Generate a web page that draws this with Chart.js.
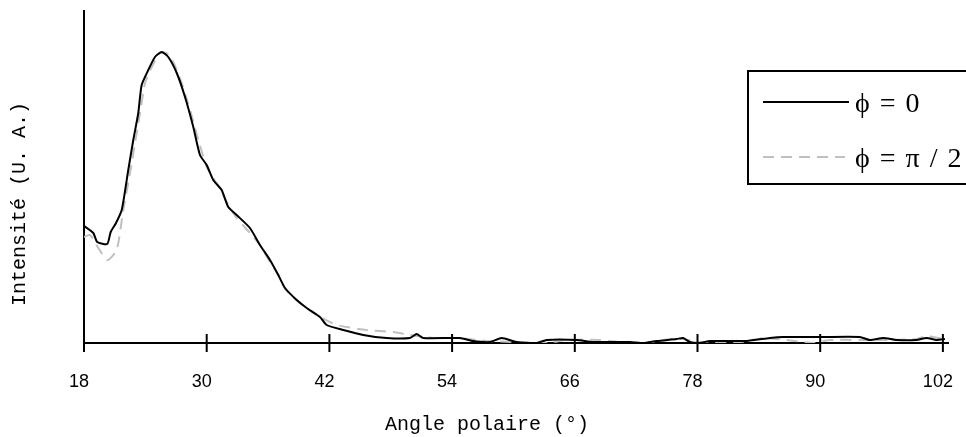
<!DOCTYPE html>
<html>
<head>
<meta charset="utf-8">
<script src="https://cdn.jsdelivr.net/npm/chart.js@4"></script>
<style>
  html, body { margin: 0; padding: 0; background: #fff; }
  #wrap { width: 966px; height: 437px; }
</style>
</head>
<body>
<div id="wrap"><canvas id="chart" width="966" height="437"></canvas></div>
<script>
// angle (deg) / intensity (a.u.)
const angle0 = [18.00, 18.91, 19.29, 20.27, 20.61, 21.13, 21.69, 22.33, 22.82, 23.31, 23.64, 24.29, 24.94, 25.60,
  26.24, 27.07, 27.88, 28.69, 29.34, 30.00, 30.64, 31.46, 32.11, 32.93, 34.23, 35.21, 36.19, 37.00, 37.66, 38.80,
  39.78, 41.08, 41.73, 43.36, 45.31, 47.60, 49.88, 50.53, 51.18, 54.77, 56.07, 57.70, 58.85, 60.31, 62.27, 63.25,
  66.17, 67.80, 71.39, 72.69, 74.00, 75.95, 76.60, 77.26, 78.24, 79.22, 82.80, 85.08, 86.38, 90.13, 93.88, 94.86,
  96.16, 97.47, 99.42, 100.40, 101.38, 102.20];
const intens0 = [117, 110, 101, 99, 111, 120, 133, 173, 203, 230, 258, 273, 286, 291,
  286, 270, 246, 216, 188, 178, 163, 153, 136, 128, 115, 98, 83, 68, 55, 43,
  35, 26, 18, 13, 8, 5, 5, 9, 5, 5, 2, 1, 5, 1, 0, 3,
  3, 1, 1, 0, 2, 4, 5, 1, 0, 2, 2, 5, 6, 6, 6, 3,
  5, 3, 3, 5, 3, 4];

const anglePi2 = [18.00, 18.59, 19.40, 20.27, 21.20, 21.84, 22.50, 22.99, 23.48, 23.97, 24.63, 25.43, 26.08, 26.73,
  27.55, 28.37, 29.18, 30.00, 30.64, 31.46, 32.11, 32.93, 34.23, 35.21, 36.19, 37.00, 37.66, 38.80, 39.78, 41.08,
  42.71, 45.64, 48.25, 49.88, 52.16, 54.77, 57.37, 59.98, 62.27, 63.86, 65.20, 68.46, 71.39, 73.02, 74.65, 76.60,
  77.91, 79.22, 82.15, 84.43, 85.73, 88.34, 89.31, 90.95, 94.20, 96.16, 99.42, 100.40, 101.05, 102.03];
const intensPi2 = [106, 108, 95, 83, 93, 133, 170, 200, 230, 260, 276, 290, 290, 281,
  260, 233, 203, 176, 165, 151, 138, 125, 110, 98, 81, 68, 54, 43, 35, 26,
  18, 13, 11, 8, 5, 5, 2, 1, 0, 1, 3, 3, 0, 0, 3, 4,
  1, 1, 1, 5, 4, 1, 0, 3, 3, 3, 4, 7, 6, 4];

const xTicks = [18, 30, 42, 54, 66, 78, 90, 102];
const seriesNames = ['\u03D5 = 0', '\u03D5 = \u03C0 / 2'];
const xTitle = 'Angle polaire (\u00B0)';
const yTitle = 'Intensit\u00E9 (U. A.)';

function toPoints(xs, ys) {
  return xs.map((x, i) => ({ x: x, y: ys[i] }));
}

// tick marks that cross the x axis line
const crossTicks = {
  id: 'crossTicks',
  afterDraw(chart) {
    const ctx = chart.ctx;
    const xs = chart.scales.x;
    const y0 = chart.chartArea.bottom;
    ctx.save();
    ctx.strokeStyle = '#000';
    ctx.lineWidth = 2;
    xTicks.forEach(v => {
      const px = xs.getPixelForValue(v);
      ctx.beginPath();
      ctx.moveTo(px, y0 - 9);
      ctx.lineTo(px, y0 + 9);
      ctx.stroke();
    });
    ctx.restore();
  }
};

// axis titles and the boxed legend
const decor = {
  id: 'decor',
  afterDraw(chart) {
    const ctx = chart.ctx;
    ctx.save();
    ctx.fillStyle = '#000';
    ctx.font = '20px "Liberation Mono", "Courier New", monospace';
    ctx.textAlign = 'center';
    ctx.textBaseline = 'alphabetic';
    ctx.fillText(xTitle, 487, 430);

    ctx.translate(25, 204);
    ctx.rotate(-Math.PI / 2);
    ctx.fillText(yTitle, 0, 0);
    ctx.restore();

    // legend box
    ctx.save();
    ctx.fillStyle = '#fff';
    ctx.fillRect(748, 71, 240, 112);
    ctx.strokeStyle = '#000';
    ctx.lineWidth = 2;
    ctx.strokeRect(748, 71, 240, 113);

    const rows = [102, 157];
    chart.data.datasets.forEach((ds, i) => {
      ctx.strokeStyle = ds.borderColor;
      ctx.lineWidth = ds.borderWidth;
      ctx.setLineDash(ds.borderDash || []);
      ctx.beginPath();
      ctx.moveTo(763, rows[i]);
      ctx.lineTo(i === 0 ? 849 : 845, rows[i]);
      ctx.stroke();
      ctx.setLineDash([]);
      ctx.fillStyle = '#000';
      ctx.font = '28px "Liberation Serif", "Times New Roman", serif';
      ctx.letterSpacing = '1.5px';
      ctx.textAlign = 'left';
      ctx.textBaseline = 'alphabetic';
      ctx.fillText(seriesNames[i], 855, rows[i] + 10);
    });
    ctx.restore();
  }
};

new Chart(document.getElementById('chart'), {
  type: 'line',
  data: {
    datasets: [{
      label: seriesNames[0],
      data: toPoints(angle0, intens0),
      borderColor: '#000000',
      borderWidth: 2,
      pointRadius: 0,
      tension: 0.2,
      fill: false
    }, {
      label: seriesNames[1],
      data: toPoints(anglePi2, intensPi2),
      borderColor: '#c0c0c0',
      borderWidth: 2,
      borderDash: [11, 7],
      pointRadius: 0,
      tension: 0.2,
      fill: false
    }]
  },
  options: {
    responsive: false,
    animation: false,
    layout: { padding: { top: 11, right: 18, left: 0, bottom: 0 } },
    plugins: {
      legend: { display: false },
      tooltip: { enabled: false }
    },
    scales: {
      x: {
        type: 'linear',
        min: 18,
        max: 102.5,
        grid: { display: false, drawTicks: false },
        border: { display: true, color: '#000', width: 2 },
        afterBuildTicks: function(scale) {
          scale.ticks = xTicks.map(v => ({ value: v }));
        },
        afterFit: function(scale) {
          scale.height = 94;
          scale.paddingLeft = 0;
          scale.paddingRight = 0;
        },
        ticks: {
          color: '#000',
          padding: 28,
          labelOffset: -5,
          maxRotation: 0,
          autoSkip: false,
          font: { family: '"Liberation Sans", Arial, sans-serif', size: 18 }
        }
      },
      y: {
        min: 0,
        max: 332,
        grid: { display: false, drawTicks: false },
        border: { display: true, color: '#000', width: 2 },
        ticks: { display: false },
        afterFit: function(scale) {
          scale.width = 84;
        }
      }
    }
  },
  plugins: [crossTicks, decor]
});
</script>
</body>
</html>
